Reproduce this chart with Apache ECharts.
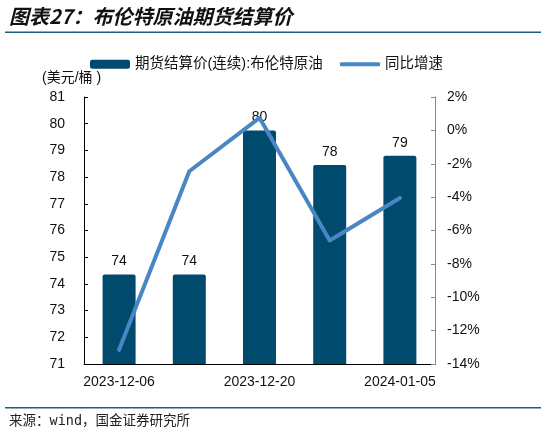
<!DOCTYPE html>
<html>
<head>
<meta charset="utf-8">
<script src="https://cdn.jsdelivr.net/npm/echarts@6/dist/echarts.min.js"></script>
<style>
html,body{margin:0;padding:0;background:#fff;}
#c{width:541px;height:438px;}
</style>
</head>
<body>
<div id="c"></div>
<script>
var categories = ['2023-12-06', '2023-12-13', '2023-12-20', '2023-12-28', '2024-01-05'];
var priceValues = [74.35, 74.35, 79.75, 78.45, 78.8];
var yoyValues = [-13.15, -2.45, 0.75, -6.6, -4.05];
var leftTicks = {min: 71, max: 81, interval: 1};
var rightTicks = {min: -14, max: 2, interval: 2};

var barName = '期货结算价(连续):布伦特原油';
var lineName = '同比增速';

var chart = echarts.init(document.getElementById('c'));
var font = '"Liberation Sans", Arial, "Noto Sans CJK SC", sans-serif';
chart.setOption({
  animation: false,
  textStyle: {fontFamily: font},
  graphic: [
    {type: 'text', left: 9, top: 6, style: {text: '图表27：布伦特原油期货结算价', font: 'italic bold 20px "Noto Sans CJK SC"', fill: '#111'}},
    {type: 'rect', shape: {x: 5, y: 31.5, width: 536, height: 1.5}, style: {fill: '#1F5B7E'}},
    {type: 'rect', shape: {x: 5, y: 407, width: 536, height: 1.5}, style: {fill: '#1F5B7E'}},
    {type: 'text', left: 9, top: 415, style: {text: '来源：wind，国金证券研究所', font: '13.5px "DejaVu Sans Mono", "Noto Sans CJK SC"', fill: '#222'}},
    {type: 'text', left: 42, top: 71, style: {text: '(美元/桶 )', font: '14px ' + font, fill: '#111'}}
  ],
  legend: [
    {
      top: 52, left: 85,
      itemWidth: 40, itemHeight: 9,
      textStyle: {fontSize: 14.5, color: '#111', fontFamily: font},
      data: [{name: barName, icon: 'roundRect'}]
    },
    {
      top: 52, left: 335,
      itemWidth: 40, itemHeight: 4,
      textStyle: {fontSize: 14.5, color: '#111', fontFamily: font},
      data: [{name: lineName, icon: 'roundRect'}]
    }
  ],
  grid: {left: 84, right: 106, top: 97, bottom: 74},
  xAxis: {
    type: 'category',
    data: categories,
    axisLine: {onZero: false, lineStyle: {color: '#000', width: 1}},
    axisTick: {inside: true, interval: 0, length: 5, lineStyle: {color: '#000'}},
    axisLabel: {interval: 1, color: '#111', fontSize: 14, margin: 11}
  },
  yAxis: [
    {
      type: 'value', min: leftTicks.min, max: leftTicks.max, interval: leftTicks.interval,
      axisLine: {show: true, lineStyle: {color: '#000'}},
      axisTick: {show: true, inside: true, length: 4, lineStyle: {color: '#000'}},
      splitLine: {show: false},
      axisLabel: {color: '#111', fontSize: 14, margin: 19}
    },
    {
      type: 'value', min: rightTicks.min, max: rightTicks.max, interval: rightTicks.interval,
      position: 'right',
      axisLine: {show: true, lineStyle: {color: '#888'}},
      axisTick: {show: true, inside: true, length: 4, lineStyle: {color: '#888'}},
      splitLine: {show: false},
      axisLabel: {color: '#111', fontSize: 14, margin: 12, formatter: '{value}%'}
    }
  ],
  series: [
    {
      name: barName,
      type: 'bar',
      data: priceValues,
      barWidth: '47%',
      itemStyle: {color: '#004A6E', borderRadius: [2, 2, 0, 0]},
      label: {show: true, position: 'top', distance: 6, color: '#111', fontSize: 14, formatter: function (p) { return Math.round(p.value); }}
    },
    {
      name: lineName,
      type: 'line',
      yAxisIndex: 1,
      data: yoyValues,
      symbol: 'none',
      lineStyle: {color: '#4A86C4', width: 4, cap: 'round', join: 'round'},
      itemStyle: {color: '#4A86C4'},
      z: 3
    }
  ]
});
</script>
</body>
</html>
